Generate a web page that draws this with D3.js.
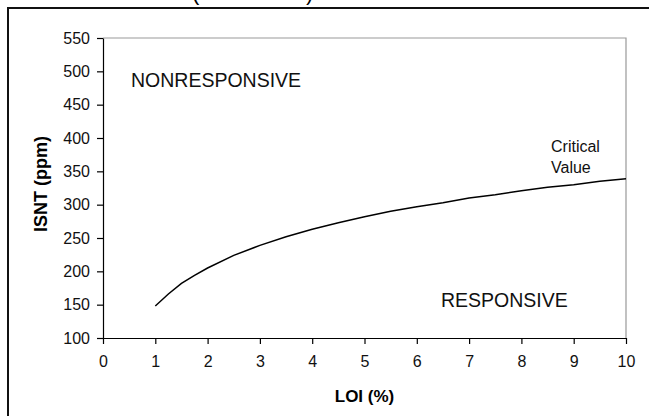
<!DOCTYPE html>
<html><head><meta charset="utf-8">
<script src="https://cdn.jsdelivr.net/npm/d3@7"></script>
<style>
html,body{margin:0;padding:0;background:#fff;}
svg{display:block;font-family:"Liberation Sans",Arial,sans-serif;}
</style></head>
<body><svg id="c" width="649" height="416"></svg>
<script>
// Data
const loi = [1, 1.25, 1.5, 1.75, 2, 2.5, 3, 3.5, 4, 4.5, 5, 5.5, 6, 6.5, 7, 7.5, 8, 8.5, 9, 9.5, 10];
const isnt = [148, 166, 182, 194, 205, 224, 239, 252, 263, 273, 282, 290, 297, 303, 310, 315, 321, 326, 330, 335, 339];
const xTicks = [0,1,2,3,4,5,6,7,8,9,10];
const yTicks = [100,150,200,250,300,350,400,450,500,550];
const xTitle = "LOI (%)";
const yTitle = "ISNT (ppm)";
const regionLabels = ["NONRESPONSIVE", "RESPONSIVE"];
const curveLabel = ["Critical", "Value"];

const svg = d3.select("#c");
const m = {l:103, r:626, t:38, b:338};
const x = d3.scaleLinear().domain([0,10]).range([m.l, m.r]);
const y = d3.scaleLinear().domain([100,550]).range([m.b, m.t]);

// outer frame (cut off at right/bottom)
svg.append("rect").attr("x",8).attr("y",8).attr("width",660).attr("height",430)
  .attr("fill","none").attr("stroke","#111").attr("stroke-width",2);

// partially visible title parentheses
svg.append("text").attr("x",192).attr("y",0).attr("font-size",22).text("(");
svg.append("text").attr("x",306).attr("y",0).attr("font-size",22).text(")");

// plot area border (gray top/right)
svg.append("path").attr("d",`M${m.l},${m.t}H${m.r}V${m.b}`).attr("fill","none")
  .attr("stroke","#999").attr("stroke-width",1.2);

const xa = svg.append("g").attr("transform",`translate(0,${m.b})`)
  .call(d3.axisBottom(x).tickValues(xTicks).tickSize(6).tickSizeOuter(0).tickPadding(12));
const ya = svg.append("g").attr("transform",`translate(${m.l},0)`)
  .call(d3.axisLeft(y).tickValues(yTicks).tickSize(6).tickSizeOuter(0).tickPadding(7));
[xa,ya].forEach(a=>{
  a.selectAll("path,line").attr("stroke","#000").attr("stroke-width",1.2);
  a.selectAll("text").attr("font-size",16).attr("fill","#111")
   .attr("font-family","'Liberation Sans',Arial,sans-serif");
});

// curve
svg.append("path").datum(loi.map((v,i)=>[v,isnt[i]]))
  .attr("d", d3.line().x(d=>x(d[0])).y(d=>y(d[1])))
  .attr("fill","none").attr("stroke","#000").attr("stroke-width",1.5);

// axis titles
svg.append("text").attr("x",(m.l+m.r)/2).attr("y",402).attr("text-anchor","middle")
  .attr("font-size",17).attr("font-weight","bold").text(xTitle);
svg.append("text").attr("transform",`translate(47,${(m.t+m.b)/2-4}) rotate(-90)`)
  .attr("text-anchor","middle").attr("font-size",18).attr("font-weight","bold").text(yTitle);

// region labels
svg.append("text").attr("x",131).attr("y",87).attr("font-size",19.5).attr("fill","#111").text(regionLabels[0]);
svg.append("text").attr("x",441).attr("y",307).attr("font-size",19.5).attr("fill","#111").text(regionLabels[1]);
svg.append("text").attr("x",551).attr("y",152).attr("font-size",16).attr("fill","#111").text(curveLabel[0]);
svg.append("text").attr("x",551).attr("y",173).attr("font-size",16).attr("fill","#111").text(curveLabel[1]);
</script></body></html>
